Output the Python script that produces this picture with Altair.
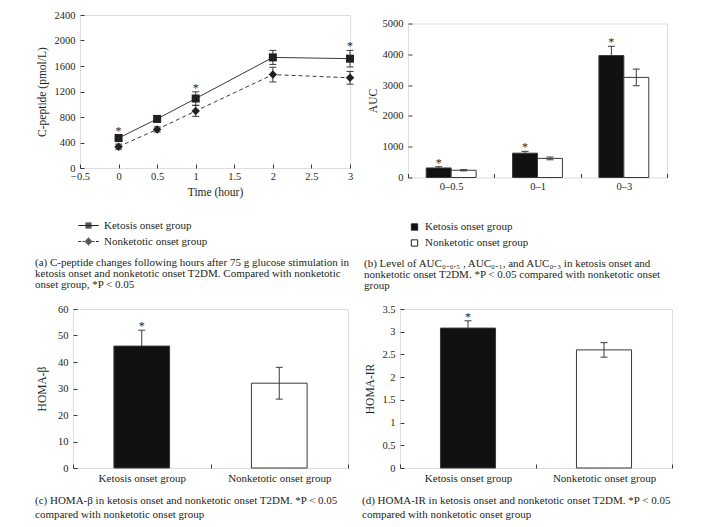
import altair as alt
import pandas as pd

FONT = "Liberation Serif"
INK = "#231f20"
GRAY = "#3a3a3a"
BAR = "#111111"

groups = ["Ketosis onset group", "Nonketotic onset group"]

# (a) C-peptide over time
times = [0, 0.5, 1, 2, 3]
ket_cpep = [470, 770, 1090, 1735, 1715]
ket_cpep_err = [55, 50, 105, 110, 130]
non_cpep = [335, 605, 895, 1465, 1415]
non_cpep_err = [40, 40, 85, 115, 100]
ket_star_a = [True, False, True, False, True]

# (b) AUC
auc_cats = ["0–0.5", "0–1", "0–3"]
ket_auc = [310, 790, 3960]
ket_auc_err = [40, 60, 300]
non_auc = [235, 620, 3250]
non_auc_err = [20, 45, 270]
ket_star_b = [True, True, True]

# (c) HOMA-beta
homa_beta = [46, 32]
homa_beta_err = [6, 6]
# (d) HOMA-IR
homa_ir = [3.08, 2.60]
homa_ir_err = [0.16, 0.16]
star_cd = [True, False]

cap_a = ["(a) C-peptide changes following hours after 75 g glucose stimulation in",
         "ketosis onset and nonketotic onset T2DM. Compared with nonketotic",
         "onset group, *P < 0.05"]
cap_b = ["(b) Level of AUC₀₋₀.₅ , AUC₀₋₁, and AUC₀₋₃ in ketosis onset and",
         "nonketotic onset T2DM. *P < 0.05 compared with nonketotic onset",
         "group"]
cap_c = ["(c) HOMA-β in ketosis onset and nonketotic onset T2DM. *P < 0.05",
         "compared with nonketotic onset group"]
cap_d = ["(d) HOMA-IR in ketosis onset and nonketotic onset T2DM. *P < 0.05",
         "compared with nonketotic onset group"]


def frame(keys, keyname, series):
    rows = []
    for g, vals, errs, stars in series:
        for k, v, e, s in zip(keys, vals, errs, stars):
            rows.append({keyname: k, "group": g, "value": v, "lo": v - e, "hi": v + e, "star": s})
    return pd.DataFrame(rows)


def frame_groups(vals, errs, stars):
    return pd.DataFrame([{"cat": g, "group": g, "value": v, "lo": v - e, "hi": v + e, "star": s}
                         for g, v, e, s in zip(groups, vals, errs, stars)])


df_a = frame(times, "time", [(groups[0], ket_cpep, ket_cpep_err, ket_star_a),
                             (groups[1], non_cpep, non_cpep_err, [False] * 5)])
df_b = frame(auc_cats, "cat", [(groups[0], ket_auc, ket_auc_err, ket_star_b),
                               (groups[1], non_auc, non_auc_err, [False] * 3)])
df_c = frame_groups(homa_beta, homa_beta_err, star_cd)
df_d = frame_groups(homa_ir, homa_ir_err, star_cd)


def axis(**kw):
    base = dict(domain=False, grid=False, ticks=True, tickSize=4, offset=-4, tickColor=GRAY, tickWidth=1,
                labelFont=FONT, labelFontSize=10.5, labelColor=INK, labelPadding=5,
                labelFlush=False, labelOverlap=False,
                titleFont=FONT, titleFontSize=11.5, titleFontWeight="normal", titleColor=INK)
    base.update(kw)
    return alt.Axis(**base)


def caption(lines, dx, offset, lh=11):
    return alt.TitleParams(text=lines, orient="bottom", anchor="start", frame="group", dx=dx, offset=offset,
                           font=FONT, fontSize=11, fontWeight="normal", color=INK, lineHeight=lh)


def spacer(w, h):
    return alt.Chart(pd.DataFrame({"v": []})).mark_point().properties(
        width=w, height=h, view=alt.ViewBackground(stroke="transparent"))


def indep(c):
    return c.resolve_scale(fill="independent", shape="independent").resolve_legend(
        fill="independent", shape="independent")


is_k = alt.datum.group == groups[0]
star_k = (alt.datum.group == groups[0]) & alt.datum.star

# ---------- (a) ----------
xa = alt.X("time:Q", scale=alt.Scale(domain=[-0.5, 3], nice=False, zero=False),
           axis=axis(values=[-0.5, 0, 0.5, 1, 1.5, 2, 2.5, 3], format="~g", title="Time (hour)",
                     labelPadding=3.5, titlePadding=4))


def ya(field):
    return alt.Y(f"{field}:Q", scale=alt.Scale(domain=[0, 2400], nice=False),
                 axis=axis(values=list(range(0, 2401, 400)), format="d", title="C-peptide (pmol/L)",
                           titlePadding=7))


# legend glyphs (line + marker); markers drawn as stacked 1px strokes so they read as solid
_rows_sq = [-0.833, -0.5, -0.167, 0.167, 0.5, 0.833]
PATH_K = "M-3.4,0H3.4" + "".join(f"M-1,{r}H1" for r in _rows_sq)
_rows_dm = [-1.167, -0.833, -0.5, -0.167, 0.167, 0.5, 0.833, 1.167]
PATH_N = ("M-3.4,0H-2.5M-2,0H-1.3M1.3,0H2M2.5,0H3.4"
          + "".join(f"M{-(1.3 - abs(r)):.3f},{r}H{1.3 - abs(r):.3f}" for r in _rows_dm))

base_a = alt.Chart(df_a)
a_line_k = base_a.transform_filter(is_k).mark_line(color=GRAY, strokeWidth=1).encode(x=xa, y=ya("value"))
a_line_n = base_a.transform_filter(~is_k).mark_line(color=GRAY, strokeWidth=1, strokeDash=[4, 3]).encode(
    x=xa, y=ya("value"))
a_rules = base_a.mark_rule(color=GRAY, strokeWidth=1).encode(x=xa, y=ya("lo"), y2="hi:Q")
a_cap_lo = base_a.mark_tick(orient="horizontal", size=7, thickness=1, color=GRAY, opacity=1).encode(x=xa, y=ya("lo"))
a_cap_hi = base_a.mark_tick(orient="horizontal", size=7, thickness=1, color=GRAY, opacity=1).encode(x=xa, y=ya("hi"))
a_sq = base_a.transform_filter(is_k).mark_point(shape="square", filled=True, size=64, color=INK, opacity=1).encode(
    x=xa, y=ya("value"))
a_dm = base_a.transform_filter(~is_k).mark_point(shape="diamond", filled=True, size=72, color=INK, opacity=1).encode(
    x=xa, y=ya("value"))
a_star = base_a.transform_filter(star_k).mark_text(text="*", font=FONT, fontSize=12, color=INK,
                                                   baseline="alphabetic").encode(x=xa, y=ya("hi"))
a_leg = alt.Chart(df_a).transform_filter("false").mark_point(
    filled=False, color=INK, strokeWidth=1, opacity=1).encode(
    shape=alt.Shape("group:N", scale=alt.Scale(domain=groups, range=[PATH_K, PATH_N]),
                    legend=alt.Legend(title=None, orient="none", legendX=3, legendY=205, direction="vertical",
                                      symbolSize=36, symbolStrokeColor=INK,
                                      symbolStrokeWidth=1, labelFont=FONT, labelFontSize=11, labelColor=INK,
                                      labelOffset=10, rowPadding=4, padding=0)))
chart_a = alt.layer(a_line_k, a_line_n, a_rules, a_cap_lo, a_cap_hi, a_sq, a_dm, a_star, a_leg).properties(
    width=270, height=153, title=caption(cap_a, -45, 9))

# ---------- (b) ----------
xb = alt.X("cat:N", sort=auc_cats, scale=alt.Scale(domain=auc_cats, paddingInner=0, paddingOuter=0),
           axis=axis(title=None, tickBand="extent", labelAngle=0, labelPadding=3.5))
xob = alt.XOffset("group:N", sort=groups, scale=alt.Scale(domain=groups, paddingInner=0, paddingOuter=0.73))


def yb(field):
    return alt.Y(f"{field}:Q", scale=alt.Scale(domain=[0, 5000], nice=False),
                 axis=axis(values=list(range(0, 5001, 1000)), format="d", title="AUC", titlePadding=4))


def err_layers(base, x, y, xo=None, cap=7):
    enc = dict(x=x)
    if xo is not None:
        enc["xOffset"] = xo
    rule = base.mark_rule(color=GRAY, strokeWidth=1).encode(y=y("lo"), y2="hi:Q", **enc)
    lo = base.mark_tick(size=cap, thickness=1, color=GRAY, opacity=1).encode(y=y("lo"), **enc)
    hi = base.mark_tick(size=cap, thickness=1, color=GRAY, opacity=1).encode(y=y("hi"), **enc)
    return [rule, lo, hi]


base_b = alt.Chart(df_b)
b_bars = base_b.mark_bar(stroke=GRAY, strokeWidth=1).encode(
    x=xb, xOffset=xob, y=yb("value"),
    fill=alt.Fill("group:N", scale=alt.Scale(domain=groups, range=[BAR, "white"]),
                  legend=alt.Legend(title=None, orient="none", legendX=1, legendY=198, direction="vertical",
                                    symbolType="square", symbolSize=40, symbolStrokeColor=INK,
                                    symbolStrokeWidth=1, labelFont=FONT, labelFontSize=11, labelColor=INK,
                                    labelOffset=5, rowPadding=4, padding=0)))
b_err_k = err_layers(base_b.transform_filter(is_k), xb, yb, xob)
b_err_n = err_layers(base_b.transform_filter(~is_k), xb, yb, xob)
b_star = base_b.transform_filter(star_k).mark_text(text="*", font=FONT, fontSize=12, color=INK,
                                                   baseline="alphabetic").encode(x=xb, xOffset=xob, y=yb("hi"))
chart_b = alt.layer(*b_err_k, b_bars, *b_err_n, b_star).properties(
    width=259, height=154, title=caption(cap_b, -44, 9))


# ---------- (c) & (d) ----------
def homa_chart(df, dom, vals, fmt, title, tpad, w, cap, dx):
    x = alt.X("cat:N", sort=groups, scale=alt.Scale(domain=groups, paddingInner=0, paddingOuter=0),
              axis=axis(title=None, tickBand="extent", labelAngle=0, labelPadding=4, labelFontSize=11))

    def y(field):
        return alt.Y(f"{field}:Q", scale=alt.Scale(domain=dom, nice=False),
                     axis=axis(values=vals, format=fmt, title=title, titlePadding=tpad))

    base = alt.Chart(df)
    bars = base.mark_bar(width=alt.RelativeBandSize(0.405), stroke=GRAY, strokeWidth=1).encode(
        x=x, y=y("value"),
        fill=alt.Fill("group:N", scale=alt.Scale(domain=groups, range=[BAR, "white"]), legend=None))
    err_k = err_layers(base.transform_filter(is_k), x, y)
    err_n = err_layers(base.transform_filter(~is_k), x, y)
    star = base.transform_filter(alt.datum.star).mark_text(text="*", font=FONT, fontSize=12, color=INK,
                                                          baseline="alphabetic").encode(x=x, y=y("hi"))
    return alt.layer(*err_k, bars, *err_n, star).properties(
        width=w, height=159, title=caption(cap, dx, 12, lh=14))


chart_c = homa_chart(df_c, [0, 60], list(range(0, 61, 10)), "d", "HOMA-β", 10, 275, cap_c, -38)
chart_d = homa_chart(df_d, [0, 3.5], [0, 0.5, 1, 1.5, 2, 2.5, 3, 3.5], "~g", "HOMA-IR", 6, 272, cap_d, -38)

b_col = indep(alt.vconcat(spacer(1, 1), chart_b, spacing=0.5))
row1 = indep(alt.hconcat(spacer(1, 1), chart_a, spacer(4, 1), b_col, spacing=1))
row2 = indep(alt.hconcat(spacer(1, 1), chart_c, spacer(8, 1), chart_d, spacing=1))

chart = indep(alt.vconcat(row1, row2, spacing=12)).properties(
    padding={"left": 22, "top": 1, "right": 2, "bottom": 2}
).configure_view(stroke=GRAY, strokeWidth=1).configure(font=FONT)

chart.save("out.html", embed_options={"renderer": "svg", "actions": False})
